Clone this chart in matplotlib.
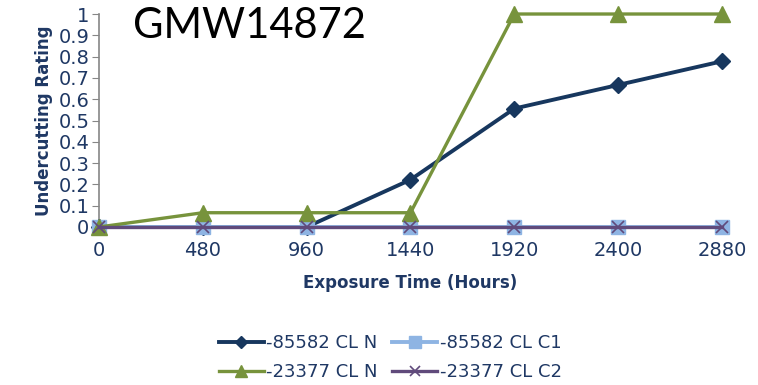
import matplotlib

matplotlib.use("Agg")
import matplotlib.pyplot as plt

# exposure time (hours) and undercutting ratings
hours = [0, 480, 960, 1440, 1920, 2400, 2880]
cl_n_85582 = [0, 0, 0, 0.222, 0.556, 0.667, 0.778]
cl_c1_85582 = [0, 0, 0, 0, 0, 0, 0]
cl_n_23377 = [0, 0.067, 0.067, 0.067, 1.0, 1.0, 1.0]
cl_c2_23377 = [0, 0, 0, 0, 0, 0, 0]
y_ticks = [i / 10 for i in range(11)]
y_tick_labels = ["0", "0.1", "0.2", "0.3", "0.4", "0.5", "0.6", "0.7", "0.8", "0.9", "1"]

_TEXT = "#1F3864"
_NAVY = "#17375E"
_LIGHT = "#8EB4E3"
_GREEN = "#77933C"
_PURPLE = "#604A7B"

plt.rcParams["font.family"] = ["DejaVu Sans"]

fig = plt.figure(figsize=(7.58, 3.85), dpi=100)
ax = fig.add_axes([0.1306, 0.4104, 0.8219, 0.5532])

h1, = ax.plot(hours, cl_n_85582, color=_NAVY, lw=2.8, marker="D", ms=8, label="-85582 CL N", zorder=3)
h2, = ax.plot(hours, cl_c1_85582, color=_LIGHT, lw=2.8, marker="s", ms=10, label="-85582 CL C1", zorder=4)
h3, = ax.plot(hours, cl_n_23377, color=_GREEN, lw=2.4, marker="^", ms=11, label="-23377 CL N", zorder=5)
h4, = ax.plot(hours, cl_c2_23377, color=_PURPLE, lw=2.4, marker="x", ms=9, mew=1.2,
              label="-23377 CL C2", zorder=6)

ax.set_xlim(0, 2880)
ax.set_ylim(0, 1)
ax.set_xticks(hours)
ax.set_xticklabels([str(h) for h in hours])
ax.set_yticks(y_ticks)
ax.set_yticklabels(y_tick_labels)
ax.tick_params(axis="y", length=5, color="#868686", labelsize=14, labelcolor=_TEXT, pad=2)
ax.tick_params(axis="x", length=0, labelsize=14, labelcolor=_TEXT, pad=10)
for side in ("top", "right", "bottom"):
    ax.spines[side].set_visible(False)
ax.spines["left"].set_color("#868686")
ax.spines["left"].set_linewidth(1.2)
for ln in ax.get_lines():
    ln.set_clip_on(False)

ax.set_xlabel("Exposure Time (Hours)", fontsize=12, fontweight="bold", color=_TEXT, labelpad=10)
ax.set_ylabel("Undercutting Rating", fontsize=12, fontweight="bold", color=_TEXT, labelpad=4)

fig.text(0.175, 0.932, "GMW14872", fontsize=30, family=["Lato", "DejaVu Sans"],
         color="black", va="center", ha="left")

# legend fills column-wise; order handles so rows read as in the original
fig.legend([h1, h3, h2, h4], [h.get_label() for h in (h1, h3, h2, h4)],
           loc="center", bbox_to_anchor=(0.515, 0.071), ncol=2, frameon=False,
           fontsize=13, labelcolor=_TEXT, handlelength=2.5, handletextpad=0.15,
           columnspacing=0.8, labelspacing=0.6, markerscale=0.8)

fig.savefig("out.png", dpi=100)
